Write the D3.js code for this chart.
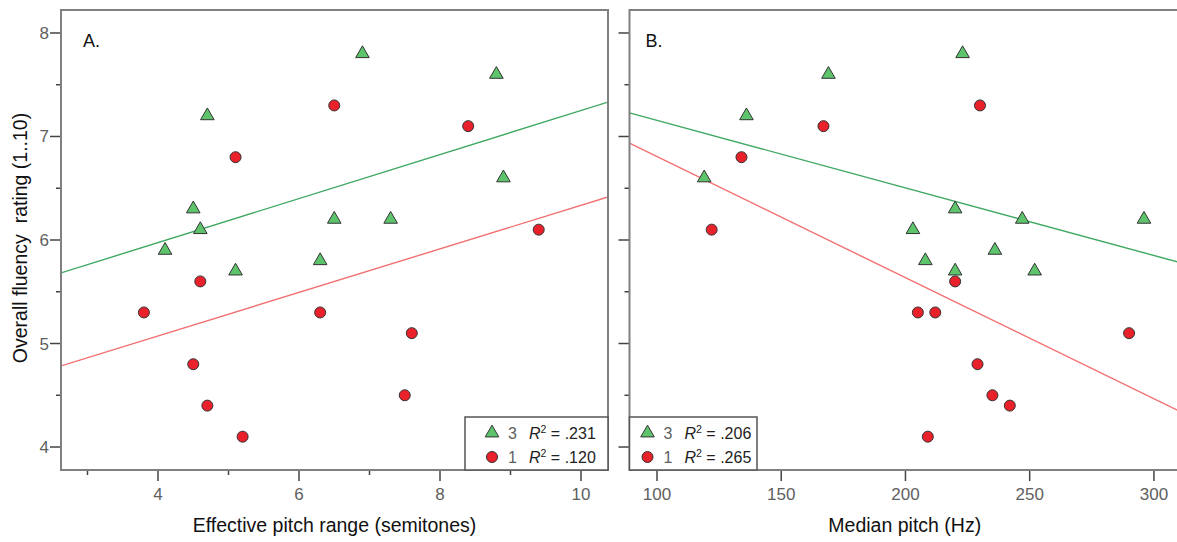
<!DOCTYPE html>
<html>
<head>
<meta charset="utf-8">
<script src="https://cdn.jsdelivr.net/npm/d3@7"></script>
<style>
  body { margin: 0; background: #fff; }
  svg text { font-family: "Liberation Sans", Arial, sans-serif; }
</style>
</head>
<body>
<div id="chart"></div>
<script>
// panel A: effective pitch range (semitones) vs fluency
const rangeGroup3 = [6.9, 8.8, 4.7, 8.9, 4.5, 4.6, 6.5, 7.3, 4.1, 6.3, 5.1];
const fluencyA3   = [7.8, 7.6, 7.2, 6.6, 6.3, 6.1, 6.2, 6.2, 5.9, 5.8, 5.7];
const rangeGroup1 = [6.5, 8.4, 5.1, 9.4, 4.6, 3.8, 6.3, 7.6, 4.5, 7.5, 4.7, 5.2];
const fluencyA1   = [7.3, 7.1, 6.8, 6.1, 5.6, 5.3, 5.3, 5.1, 4.8, 4.5, 4.4, 4.1];

// panel B: median pitch (Hz) vs fluency
const pitchGroup3 = [223, 169, 136, 119, 220, 247, 296, 203, 236, 208, 220, 252];
const fluencyB3   = [7.8, 7.6, 7.2, 6.6, 6.3, 6.2, 6.2, 6.1, 5.9, 5.8, 5.7, 5.7];
const pitchGroup1 = [230, 167, 134, 122, 220, 205, 212, 290, 229, 235, 242, 209];
const fluencyB1   = [7.3, 7.1, 6.8, 6.1, 5.6, 5.3, 5.3, 5.1, 4.8, 4.5, 4.4, 4.1];

// fit lines: [intercept, slope]
const fitA = { g3: [5.124, 0.2127], g1: [4.232, 0.2103] };
const fitB = { g3: [7.809, -0.006529], g1: [7.977, -0.011705] };
const r2A = [".231", ".120"];
const r2B = [".206", ".265"];

const yTicks = [4, 5, 6, 7, 8];
const yMinor = [4.5, 5.5, 6.5, 7.5];
const xTicksA = [4, 6, 8, 10];
const xMinorA = [3, 5, 7, 9];
const xTicksB = [100, 150, 200, 250, 300];

document.addEventListener("DOMContentLoaded", function() {
    const W = 1177, H = 542;
    const green = "#5ec46c", red = "#e8212b";
    const greenLine = "#3fa862", redLine = "#f27070";
    const frameCol = "#808080", tickCol = "#444", labelCol = "#606060";

    const svg = d3.select("#chart").append("svg")
        .attr("width", W).attr("height", H);

    const y = d3.scaleLinear().domain([3.778, 8.222]).range([470, 10]);

    function panel(opts) {
        const x = opts.x;
        const [x0, x1] = x.range();
        const g = svg.append("g");

        g.append("clipPath").attr("id", opts.id)
            .append("rect")
            .attr("x", x0).attr("y", 10)
            .attr("width", x1 - x0).attr("height", 460);

        // y ticks
        g.selectAll(".ymaj").data(yTicks).enter().append("line")
            .attr("x1", x0 - 11).attr("x2", x0)
            .attr("y1", d => y(d)).attr("y2", d => y(d))
            .attr("stroke", tickCol).attr("stroke-width", 1.5);
        g.selectAll(".ymin").data(yMinor).enter().append("line")
            .attr("x1", x0 - 5).attr("x2", x0)
            .attr("y1", d => y(d)).attr("y2", d => y(d))
            .attr("stroke", tickCol).attr("stroke-width", 1.5);
        if (opts.yLabels) {
            g.selectAll(".ylab").data(yTicks).enter().append("text")
                .attr("x", x0 - 12).attr("y", d => y(d) + 6)
                .attr("text-anchor", "end")
                .attr("font-size", 17).attr("fill", labelCol)
                .text(d => d);
        }

        // x ticks
        g.selectAll(".xmaj").data(opts.xTicks).enter().append("line")
            .attr("x1", d => x(d)).attr("x2", d => x(d))
            .attr("y1", 470).attr("y2", 481)
            .attr("stroke", tickCol).attr("stroke-width", 1.5);
        g.selectAll(".xmin").data(opts.xMinor).enter().append("line")
            .attr("x1", d => x(d)).attr("x2", d => x(d))
            .attr("y1", 470).attr("y2", 475)
            .attr("stroke", tickCol).attr("stroke-width", 1.5);
        g.selectAll(".xlab").data(opts.xTicks).enter().append("text")
            .attr("x", d => x(d)).attr("y", 500)
            .attr("text-anchor", "middle")
            .attr("font-size", 17).attr("fill", labelCol)
            .text(d => d);

        g.append("text")
            .attr("x", (x0 + x1) / 2).attr("y", 532)
            .attr("text-anchor", "middle")
            .attr("font-size", 19.5).attr("fill", "#111")
            .text(opts.title);

        // fit lines
        const dom = x.domain();
        const fitLine = (f, col) => g.append("line")
            .attr("clip-path", `url(#${opts.id})`)
            .attr("x1", x(dom[0])).attr("x2", x(dom[1]))
            .attr("y1", y(f[0] + f[1] * dom[0]))
            .attr("y2", y(f[0] + f[1] * dom[1]))
            .attr("stroke", col).attr("stroke-width", 1.4);
        fitLine(opts.fit.g3, greenLine);
        fitLine(opts.fit.g1, redLine);

        // markers
        const tri = d3.symbol().type(d3.symbolTriangle).size(80);
        g.selectAll(".tri").data(d3.zip(opts.x3, opts.y3)).enter().append("path")
            .attr("d", tri)
            .attr("transform", d => `translate(${x(d[0])},${y(d[1])})`)
            .attr("fill", green).attr("stroke", "#333").attr("stroke-width", 1);
        g.selectAll(".dot").data(d3.zip(opts.x1, opts.y1)).enter().append("circle")
            .attr("cx", d => x(d[0])).attr("cy", d => y(d[1]))
            .attr("r", 5.5)
            .attr("fill", red).attr("stroke", "#333").attr("stroke-width", 1);

        // frame
        g.append("rect")
            .attr("x", x0).attr("y", 10)
            .attr("width", x1 - x0).attr("height", 460)
            .attr("fill", "none").attr("stroke", frameCol).attr("stroke-width", 2);

        g.append("text")
            .attr("x", x0 + opts.tagDx).attr("y", 47)
            .attr("font-size", 18).attr("fill", "#111")
            .text(opts.tag);

        // legend
        const lx = opts.legendX, lw = opts.legendW, p = opts.legendPad;
        const leg = g.append("g");
        leg.append("rect")
            .attr("x", lx).attr("y", 417)
            .attr("width", lw).attr("height", 53)
            .attr("fill", "#fff").attr("stroke", "#555").attr("stroke-width", 1.5);
        leg.append("path").attr("d", tri)
            .attr("transform", `translate(${lx + p + 18},${433})`)
            .attr("fill", green).attr("stroke", "#333");
        leg.append("circle")
            .attr("cx", lx + p + 18).attr("cy", 457).attr("r", 5.5)
            .attr("fill", red).attr("stroke", "#333");
        [["3", opts.r2[0], 439], ["1", opts.r2[1], 463]].forEach(row => {
            leg.append("text")
                .attr("x", lx + p + 34).attr("y", row[2])
                .attr("font-size", 16).attr("fill", labelCol)
                .text(row[0]);
            const t = leg.append("text")
                .attr("x", lx + p + 55).attr("y", row[2])
                .attr("font-size", 16).attr("fill", "#222");
            t.append("tspan").attr("font-style", "italic").text("R");
            t.append("tspan").attr("font-size", 10.5).attr("dy", -6).text("2");
            t.append("tspan").attr("dy", 6).text(" = " + row[1]);
        });
    }

    panel({
        id: "clipA",
        x: d3.scaleLinear().domain([2.624, 10.383]).range([61, 608]),
        xTicks: xTicksA, xMinor: xMinorA, yLabels: true,
        title: "Effective pitch range (semitones)",
        fit: fitA, r2: r2A, tag: "A.", tagDx: 22,
        x3: rangeGroup3, y3: fluencyA3, x1: rangeGroup1, y1: fluencyA1,
        legendX: 465, legendW: 143, legendPad: 9
    });

    panel({
        id: "clipB",
        x: d3.scaleLinear().domain([88.93, 310.5]).range([629.5, 1180]),
        xTicks: xTicksB, xMinor: [], yLabels: false,
        title: "Median pitch (Hz)",
        fit: fitB, r2: r2B, tag: "B.", tagDx: 16,
        x3: pitchGroup3, y3: fluencyB3, x1: pitchGroup1, y1: fluencyB1,
        legendX: 629.5, legendW: 127.5, legendPad: 0
    });

    svg.append("text")
        .attr("transform", "translate(27,238) rotate(-90)")
        .attr("text-anchor", "middle")
        .attr("font-size", 19.5).attr("fill", "#111")
        .attr("xml:space", "preserve")
        .text("Overall fluency  rating (1..10)");
});
</script>
</body>
</html>
